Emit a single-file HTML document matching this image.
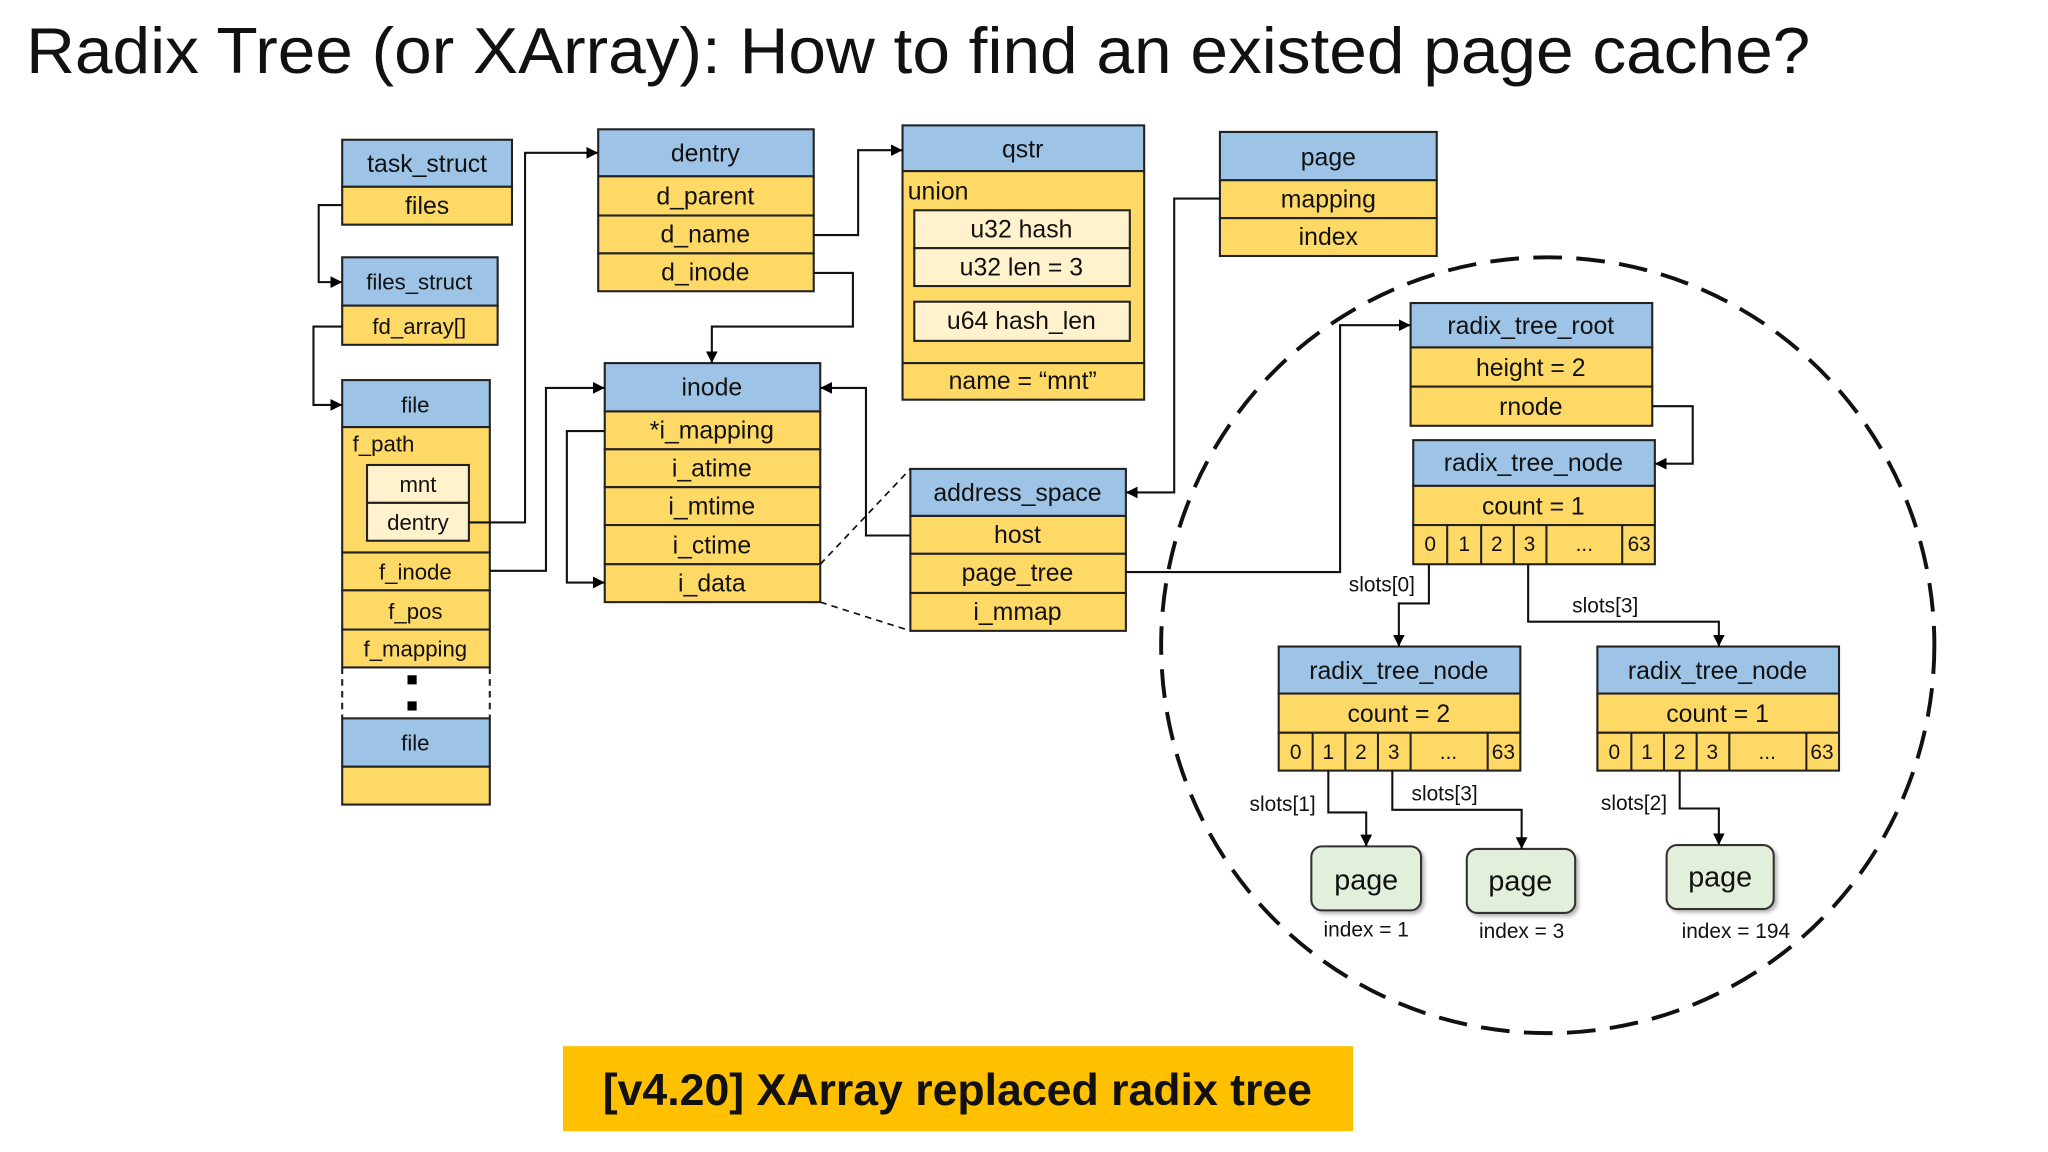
<!DOCTYPE html>
<html><head><meta charset="utf-8">
<style>
html,body{margin:0;padding:0;background:#fff;}
svg{display:block;}
text{font-family:"Liberation Sans",sans-serif;fill:#111;}
</style></head>
<body>
<svg width="2048" height="1152" viewBox="0 0 1568 882" xmlns="http://www.w3.org/2000/svg">
<defs>
<marker id="a" viewBox="0 0 10 10" refX="10" refY="5" markerWidth="9" markerHeight="9" markerUnits="userSpaceOnUse" orient="auto">
<path d="M0,0 L10,5 L0,10 z" fill="#000"/></marker>
<filter id="sh" x="-10%" y="-10%" width="130%" height="130%"><feDropShadow dx="2" dy="2" stdDeviation="1.5" flood-color="#888" flood-opacity="0.6"/></filter>
</defs>

<text x="20" y="56" font-size="50" textLength="1366" lengthAdjust="spacingAndGlyphs" style="font-weight:300">Radix Tree (or XArray): How to find an existed page cache?</text>

<g stroke="#222" stroke-width="1.6">
<!-- task_struct -->
<rect x="262" y="107" width="130" height="36" fill="#9dc3e6"/>
<rect x="262" y="143" width="130" height="29" fill="#ffd966"/>
<!-- files_struct -->
<rect x="262" y="197" width="119" height="37" fill="#9dc3e6"/>
<rect x="262" y="234" width="119" height="30" fill="#ffd966"/>
<!-- file -->
<rect x="262" y="291" width="113" height="36" fill="#9dc3e6"/>
<rect x="262" y="327" width="113" height="96" fill="#ffd966"/>
<rect x="281" y="356" width="78" height="29" fill="#fff2cc"/>
<rect x="281" y="385" width="78" height="29" fill="#fff2cc"/>
<rect x="262" y="423" width="113" height="29" fill="#ffd966"/>
<rect x="262" y="452" width="113" height="30" fill="#ffd966"/>
<rect x="262" y="482" width="113" height="29" fill="#ffd966"/>
<rect x="262" y="550" width="113" height="37" fill="#9dc3e6"/>
<rect x="262" y="587" width="113" height="29" fill="#ffd966"/>
<!-- dentry -->
<rect x="458" y="99" width="165" height="36" fill="#9dc3e6"/>
<rect x="458" y="135" width="165" height="30" fill="#ffd966"/>
<rect x="458" y="165" width="165" height="29" fill="#ffd966"/>
<rect x="458" y="194" width="165" height="29" fill="#ffd966"/>
<!-- qstr -->
<rect x="691" y="96" width="185" height="35" fill="#9dc3e6"/>
<rect x="691" y="131" width="185" height="147" fill="#ffd966"/>
<rect x="700" y="161" width="165" height="29" fill="#fff2cc"/>
<rect x="700" y="190" width="165" height="29" fill="#fff2cc"/>
<rect x="700" y="231" width="165" height="30" fill="#fff2cc"/>
<rect x="691" y="278" width="185" height="28" fill="#ffd966"/>
<!-- page top -->
<rect x="934" y="101" width="166" height="37" fill="#9dc3e6"/>
<rect x="934" y="138" width="166" height="29" fill="#ffd966"/>
<rect x="934" y="167" width="166" height="29" fill="#ffd966"/>
<!-- inode -->
<rect x="463" y="278" width="165" height="37" fill="#9dc3e6"/>
<rect x="463" y="315" width="165" height="29" fill="#ffd966"/>
<rect x="463" y="344" width="165" height="29" fill="#ffd966"/>
<rect x="463" y="373" width="165" height="29" fill="#ffd966"/>
<rect x="463" y="402" width="165" height="30" fill="#ffd966"/>
<rect x="463" y="432" width="165" height="29" fill="#ffd966"/>
<!-- address_space -->
<rect x="697" y="359" width="165" height="36" fill="#9dc3e6"/>
<rect x="697" y="395" width="165" height="29" fill="#ffd966"/>
<rect x="697" y="424" width="165" height="30" fill="#ffd966"/>
<rect x="697" y="454" width="165" height="29" fill="#ffd966"/>
<!-- radix_tree_root -->
<rect x="1080" y="232" width="185" height="34" fill="#9dc3e6"/>
<rect x="1080" y="266" width="185" height="30" fill="#ffd966"/>
<rect x="1080" y="296" width="185" height="30" fill="#ffd966"/>
<!-- rtn1 -->
<rect x="1082" y="337" width="185" height="35" fill="#9dc3e6"/>
<rect x="1082" y="372" width="185" height="30" fill="#ffd966"/>
<rect x="1082" y="402" width="185" height="30" fill="#ffd966"/>
<!-- rtn2 -->
<rect x="979" y="495" width="185" height="36" fill="#9dc3e6"/>
<rect x="979" y="531" width="185" height="30" fill="#ffd966"/>
<rect x="979" y="561" width="185" height="29" fill="#ffd966"/>
<!-- rtn3 -->
<rect x="1223" y="495" width="185" height="36" fill="#9dc3e6"/>
<rect x="1223" y="531" width="185" height="30" fill="#ffd966"/>
<rect x="1223" y="561" width="185" height="29" fill="#ffd966"/>
</g>
<!-- slot dividers -->
<g stroke="#222" stroke-width="1.6">
<path d="M1108,402v30M1134,402v30M1159,402v30M1184,402v30M1242,402v30"/>
<path d="M1005,561v29M1030,561v29M1055,561v29M1080,561v29M1139,561v29"/>
<path d="M1249,561v29M1274,561v29M1299,561v29M1324,561v29M1383,561v29"/>
</g>
<!-- dashed side of file array -->
<path d="M262,511V550M375,511V550" stroke="#222" stroke-width="1.6" stroke-dasharray="5,4"/>
<rect x="312" y="517" width="7" height="7" fill="#000"/>
<rect x="312" y="537" width="7" height="7" fill="#000"/>

<!-- circle -->
<ellipse cx="1185" cy="494" rx="296" ry="297" fill="none" stroke="#111" stroke-width="3" stroke-dasharray="22,11"/>

<!-- pages -->
<g fill="#e2efda" stroke="#333" stroke-width="1.6" filter="url(#sh)">
<rect x="1004" y="648" width="84" height="49" rx="8"/>
<rect x="1123" y="650" width="83" height="49" rx="8"/>
<rect x="1276" y="647" width="82" height="49" rx="8"/>
</g>

<!-- connectors -->
<g fill="none" stroke="#111" stroke-width="1.6">
<path d="M262,157H244V216H262" marker-end="url(#a)"/>
<path d="M262,250H240V310H262" marker-end="url(#a)"/>
<path d="M359,400H402V117H458" marker-end="url(#a)"/>
<path d="M375,437H418V297H463" marker-end="url(#a)"/>
<path d="M623,180H657V115H691" marker-end="url(#a)"/>
<path d="M623,209H653V250H545V278" marker-end="url(#a)"/>
<path d="M463,330H434V446H463" marker-end="url(#a)"/>
<path d="M697,410H663V297H628" marker-end="url(#a)"/>
<path d="M934,152H899V377H862" marker-end="url(#a)"/>
<path d="M862,438H1026V249H1080" marker-end="url(#a)"/>
<path d="M1265,311H1296V355H1267" marker-end="url(#a)"/>
<path d="M1094,432V462H1071V495" marker-end="url(#a)"/>
<path d="M1170,432V476H1316V495" marker-end="url(#a)"/>
<path d="M1017,590V622H1046V648" marker-end="url(#a)"/>
<path d="M1066,590V620H1165V650" marker-end="url(#a)"/>
<path d="M1286,590V619H1316V647" marker-end="url(#a)"/>
<path d="M628,432L697,359M628,461L697,483" stroke-dasharray="5,4" stroke-width="1.3"/>
</g>

<!-- labels -->
<g font-size="19" text-anchor="middle" dominant-baseline="central">
<text x="327" y="126">task_struct</text>
<text x="327" y="158">files</text>
<text x="321" y="216" font-size="17">files_struct</text>
<text x="321" y="250" font-size="17">fd_array[]</text>
<text x="318" y="310" font-size="17">file</text>
<text x="270" y="340" font-size="17" text-anchor="start">f_path</text>
<text x="320" y="371" font-size="17">mnt</text>
<text x="320" y="400" font-size="17">dentry</text>
<text x="318" y="438" font-size="17">f_inode</text>
<text x="318" y="468" font-size="17">f_pos</text>
<text x="318" y="497" font-size="17">f_mapping</text>
<text x="318" y="569" font-size="17">file</text>
<text x="540" y="118">dentry</text>
<text x="540" y="151">d_parent</text>
<text x="540" y="180">d_name</text>
<text x="540" y="209">d_inode</text>
<text x="783" y="115">qstr</text>
<text x="695" y="147" text-anchor="start">union</text>
<text x="782" y="176">u32  hash</text>
<text x="782" y="205">u32 len = 3</text>
<text x="782" y="246">u64 hash_len</text>
<text x="783" y="292">name = “mnt”</text>
<text x="1017" y="121">page</text>
<text x="1017" y="153">mapping</text>
<text x="1017" y="182">index</text>
<text x="545" y="297">inode</text>
<text x="545" y="330">*i_mapping</text>
<text x="545" y="359">i_atime</text>
<text x="545" y="388">i_mtime</text>
<text x="545" y="418">i_ctime</text>
<text x="545" y="447">i_data</text>
<text x="779" y="378">address_space</text>
<text x="779" y="410">host</text>
<text x="779" y="439">page_tree</text>
<text x="779" y="469">i_mmap</text>
<text x="1172" y="250">radix_tree_root</text>
<text x="1172" y="282">height = 2</text>
<text x="1172" y="312">rnode</text>
<text x="1174" y="355">radix_tree_node</text>
<text x="1174" y="388">count = 1</text>
<text x="1071" y="514">radix_tree_node</text>
<text x="1071" y="547">count = 2</text>
<text x="1315" y="514">radix_tree_node</text>
<text x="1315" y="547">count = 1</text>
<g font-size="16">
<text x="1095" y="417">0</text><text x="1121" y="417">1</text><text x="1146" y="417">2</text><text x="1171" y="417">3</text><text x="1213" y="417">...</text><text x="1255" y="417">63</text>
<text x="992" y="576">0</text><text x="1017" y="576">1</text><text x="1042" y="576">2</text><text x="1067" y="576">3</text><text x="1109" y="576">...</text><text x="1151" y="576">63</text>
<text x="1236" y="576">0</text><text x="1261" y="576">1</text><text x="1286" y="576">2</text><text x="1311" y="576">3</text><text x="1353" y="576">...</text><text x="1395" y="576">63</text>
<text x="1058" y="448">slots[0]</text>
<text x="1229" y="464">slots[3]</text>
<text x="982" y="616">slots[1]</text>
<text x="1106" y="608">slots[3]</text>
<text x="1251" y="615">slots[2]</text>
<text x="1046" y="712">index = 1</text>
<text x="1165" y="713">index = 3</text>
<text x="1329" y="713">index = 194</text>
</g>
<text x="1046" y="674" font-size="22">page</text>
<text x="1164" y="675" font-size="22">page</text>
<text x="1317" y="672" font-size="22">page</text>
</g>

<!-- banner -->
<rect x="431" y="801" width="605" height="65" fill="#ffc000"/>
<text x="733" y="835" font-size="34" font-weight="bold" text-anchor="middle" dominant-baseline="central" textLength="543" lengthAdjust="spacingAndGlyphs">[v4.20] XArray replaced radix tree</text>
</svg>
</body></html>
